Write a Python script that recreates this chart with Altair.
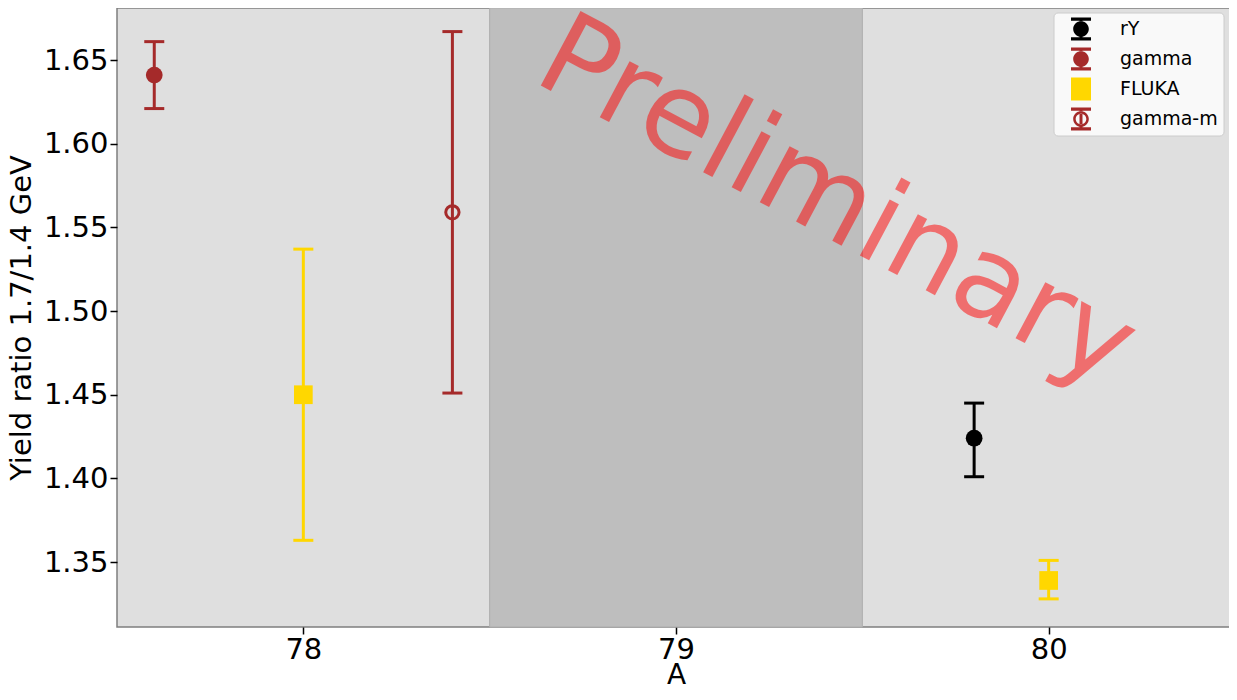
import altair as alt
import pandas as pd

# ---- data ----
series = ["gamma", "FLUKA", "gamma-m", "rY", "FLUKA"]
mass_A = [77.6, 78.0, 78.4, 79.8, 80.0]
ratio = [1.641, 1.450, 1.559, 1.424, 1.339]
err_low = [1.621, 1.363, 1.451, 1.401, 1.328]
err_high = [1.661, 1.537, 1.667, 1.445, 1.351]
marker = ["filled", "square", "open", "filled", "square"]

legend_order = ["rY", "gamma", "FLUKA", "gamma-m"]
legend_colors = ["#000000", "#a52a2a", "#ffd700", "#a52a2a"]

band_start = [78.5]
band_end = [79.5]

x_ticks = [78, 79, 80]
y_ticks = [1.35, 1.40, 1.45, 1.50, 1.55, 1.60, 1.65]
x_domain = [77.5, 80.5]
y_domain = [1.3112, 1.6811]

watermark_text = ["Preliminary"]
watermark_A = [79.386]
watermark_y = [1.546]

FONT = "DejaVu Sans"

# legend glyphs: error bar + marker, drawn as custom symbol paths
cap_top = "M-0.87 -1H0.87V-0.72H0.13V-0.66H-0.13V-0.72H-0.87Z"
cap_bot = "M-0.87 1H0.87V0.72H0.13V0.66H-0.13V0.72H-0.87Z"
disc = "M-0.68 0A0.68 0.68 0 1 0 0.68 0A0.68 0.68 0 1 0 -0.68 0Z"
ring = disc + "M-0.46 0A0.46 0.46 0 1 1 0.46 0A0.46 0.46 0 1 1 -0.46 0Z" + "M-0.13 -0.43H0.13V0.43H-0.13Z"
rect = "M-0.87 -1H0.87V1H-0.87Z"
legend_shapes = [cap_top + cap_bot + disc, cap_top + cap_bot + disc, rect, cap_top + cap_bot + ring]

df = pd.DataFrame({
    "series": series, "A": mass_A, "ratio": ratio,
    "lo": err_low, "hi": err_high, "marker": marker,
})
band_df = pd.DataFrame({"start": band_start, "end": band_end})
wm_df = pd.DataFrame({"text": watermark_text, "A": watermark_A, "y": watermark_y})

xs = alt.Scale(domain=x_domain, nice=False, zero=False)
ys = alt.Scale(domain=y_domain, nice=False, zero=False)
cs = alt.Scale(domain=legend_order, range=legend_colors)

x_axis = alt.Axis(values=x_ticks, format="d", title="A", grid=False, domain=False,
                  tickSize=7, tickWidth=1.5, tickColor="black",
                  labelFontSize=29, titleFontSize=28, labelPadding=1, titlePadding=-3,
                  labelColor="black", titleColor="black", titleFontWeight="normal",
                  labelFont=FONT, titleFont=FONT)
y_axis = alt.Axis(values=y_ticks, format=".2f", title="Yield ratio 1.7/1.4 GeV", grid=False,
                  domain=False, tickSize=7, tickWidth=1.5, tickColor="black",
                  labelFontSize=29, titleFontSize=29, labelPadding=2, titlePadding=7,
                  labelColor="black", titleColor="black", titleFontWeight="normal",
                  labelFont=FONT, titleFont=FONT)

legend = alt.Legend(title=None, orient="none", legendX=936.5, legendY=4.5,
                    symbolSize=529, symbolStrokeWidth=0, symbolOpacity=1,
                    symbolOffset=11, labelOffset=27.5, padding=5, rowPadding=7,
                    labelFontSize=19, labelFont=FONT, labelColor="black",
                    fillColor="#f9f9f9", strokeColor="#cccccc",
                    cornerRadius=4)

base = alt.Chart(df)

# invisible layer that only carries the legend (first, so its legend wins the merge)
carrier = base.mark_point(filled=True, opacity=0).encode(
    x=alt.X("A:Q", scale=xs, axis=x_axis),
    y=alt.Y("ratio:Q", scale=ys, axis=y_axis),
    color=alt.Color("series:N", scale=cs, legend=legend),
    shape=alt.Shape("series:N", scale=alt.Scale(domain=legend_order, range=legend_shapes), legend=legend),
)

band = alt.Chart(band_df).mark_rect(color="#bebebe", stroke="#adadad", strokeWidth=1).encode(
    x=alt.X("start:Q", scale=xs, axis=x_axis),
    x2="end:Q",
    y=alt.datum(y_domain[0], scale=ys, axis=y_axis),
    y2=alt.datum(y_domain[1]),
)

bars = base.mark_rule(strokeWidth=3).encode(
    x=alt.X("A:Q", scale=xs, axis=x_axis),
    y=alt.Y("lo:Q", scale=ys, axis=y_axis),
    y2="hi:Q",
    color=alt.Color("series:N", scale=cs, legend=None),
)

caps = base.transform_fold(["lo", "hi"], as_=["end", "val"]).mark_rule(
    strokeWidth=3, xOffset=-10, x2Offset=10).encode(
    x=alt.X("A:Q", scale=xs, axis=x_axis),
    x2="A:Q",
    y=alt.Y("val:Q", scale=ys, axis=y_axis),
    color=alt.Color("series:N", scale=cs, legend=None),
)

dots = base.transform_filter(alt.datum.marker == "filled").mark_point(
    shape="circle", filled=True, opacity=1, size=280).encode(
    x=alt.X("A:Q", scale=xs, axis=x_axis), y=alt.Y("ratio:Q", scale=ys, axis=y_axis),
    color=alt.Color("series:N", scale=cs, legend=None),
)
squares = base.transform_filter(alt.datum.marker == "square").mark_point(
    shape="square", filled=True, opacity=1, size=350).encode(
    x=alt.X("A:Q", scale=xs, axis=x_axis), y=alt.Y("ratio:Q", scale=ys, axis=y_axis),
    color=alt.Color("series:N", scale=cs, legend=None),
)
rings = base.transform_filter(alt.datum.marker == "open").mark_point(
    shape="circle", filled=False, opacity=1, size=177, strokeWidth=3).encode(
    x=alt.X("A:Q", scale=xs, axis=x_axis), y=alt.Y("ratio:Q", scale=ys, axis=y_axis),
    color=alt.Color("series:N", scale=cs, legend=None),
)

watermark = alt.Chart(wm_df).mark_text(
    font=FONT, fontSize=116, angle=28, color="red", opacity=0.5,
    align="center", baseline="alphabetic").encode(
    x=alt.X("A:Q", scale=xs, axis=x_axis), y=alt.Y("y:Q", scale=ys, axis=y_axis), text="text:N",
)

chart = alt.layer(carrier, band, watermark, bars, caps, dots, squares, rings).properties(
    width=1118, height=619,
    autosize=alt.AutoSizeParams(type="none"),
    padding={"left": 109, "right": -6, "top": 0, "bottom": 57},
    background="white",
).configure(font=FONT).configure_view(
    fill="#dfdfdf", stroke="#7f7f7f", strokeWidth=1.5,
)

chart.save("out.html", embed_options={"renderer": "svg", "actions": False})
